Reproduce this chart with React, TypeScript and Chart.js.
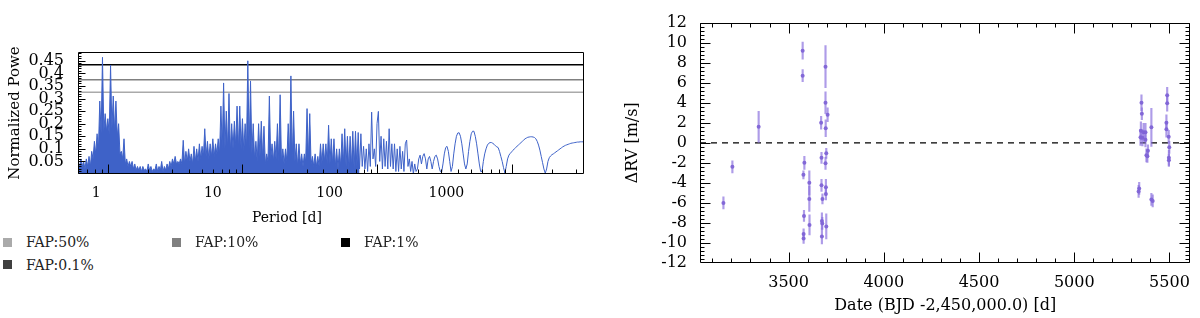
import React, { useEffect, useRef } from 'react';
import { Chart, registerables } from 'chart.js';
Chart.register(...registerables);

const FONT = '"DejaVu Serif", serif';

// ---------------- Left panel: periodogram ----------------
// sampling grid of the periodogram in log10(period)
const LOG_P_START = -0.22;
const LOG_P_STEP = 0.01;
// normalized power, one value per grid step
const POWER = [
  0.04, 0.03, 0.06, 0.03, 0.05, 0.02, 0.06, 0.03, 0.07, 0.03,
  0.09, 0.06, 0.13, 0.08, 0.16, 0.1, 0.29, 0.16, 0.464, 0.17,
  0.24, 0.17, 0.22, 0.16, 0.433, 0.18, 0.31, 0.17, 0.29, 0.15,
  0.2, 0.08, 0.09, 0.06, 0.14, 0.04, 0.06, 0.03, 0.05, 0.03,
  0.05, 0.02, 0.04, 0.015, 0.03, 0.015, 0.03, 0.01, 0.03, 0.015,
  0.02, 0.01, 0.04, 0.015, 0.03, 0.01, 0.02, 0.015, 0.04, 0.01,
  0.03, 0.015, 0.05, 0.01, 0.03, 0.015, 0.04, 0.02, 0.05, 0.03,
  0.06, 0.04, 0.07, 0.04, 0.05, 0.04, 0.06, 0.04, 0.134, 0.04,
  0.09, 0.05, 0.1, 0.05, 0.08, 0.04, 0.11, 0.05, 0.1, 0.05,
  0.12, 0.06, 0.11, 0.07, 0.18, 0.07, 0.13, 0.06, 0.12, 0.07,
  0.14, 0.07, 0.12, 0.08, 0.14, 0.08, 0.27, 0.1, 0.362, 0.1,
  0.25, 0.1, 0.32, 0.09, 0.2, 0.1, 0.21, 0.11, 0.27, 0.1,
  0.27, 0.1, 0.22, 0.09, 0.2, 0.1, 0.45, 0.1, 0.37, 0.08,
  0.2, 0.06, 0.13, 0.05, 0.2, 0.07, 0.21, 0.06, 0.19, 0.04,
  0.08, 0.05, 0.31, 0.06, 0.12, 0.05, 0.13, 0.06, 0.2, 0.05,
  0.315, 0.05, 0.1, 0.04, 0.1, 0.05, 0.2, 0.06, 0.39, 0.06,
  0.25, 0.05, 0.12, 0.03, 0.12, 0.04, 0.08, 0.03, 0.08, 0.05,
  0.26, 0.06, 0.24, 0.04, 0.07, 0.03, 0.08, 0.03, 0.07, 0.03,
  0.12, 0.04, 0.12, 0.05, 0.12, 0.04, 0.194, 0.04, 0.14, 0.04,
  0.14, 0.03, 0.1, 0.02, 0.1, 0.03, 0.16, 0.04, 0.18, 0.03,
  0.15, 0.02, 0.15, 0.03, 0.17, 0.02, 0.17, 0.03, 0.165, 0.02,
  0.16, 0.03, 0.11, 0.02, 0.1, 0.01, 0.12, 0.03, 0.246, 0.06,
  0.1, 0.03, 0.2, 0.249, 0.05, 0.15, 0.02, 0.14, 0.03, 0.13,
  0.02, 0.18, 0.03, 0.12, 0.02, 0.12, 0.01, 0.1, 0.01, 0.11,
  0.02, 0.09, 0.01, 0.12, 0.135, 0.03, 0.06, 0.01, 0.05, 0.0,
  0.04, 0.01, 0.02, 0.06, 0.075, 0.04, 0.07, 0.081, 0.06, 0.02,
  0.06, 0.07, 0.05, 0.02, 0.05, 0.07, 0.075, 0.06, 0.03, 0.01,
  0.007, 0.04, 0.08, 0.105, 0.11, 0.09, 0.05, 0.01, 0.03, 0.08,
  0.12, 0.15, 0.163, 0.164, 0.15, 0.12, 0.08, 0.04, 0.02, 0.04,
  0.09, 0.13, 0.16, 0.17, 0.17, 0.15, 0.12, 0.08, 0.04, 0.01,
  0.01, 0.05, 0.08, 0.1, 0.115, 0.122, 0.125, 0.125, 0.122, 0.118,
  0.112, 0.108, 0.105, 0.09, 0.07, 0.05, 0.025, 0.004, 0.03, 0.06,
  0.075, 0.082, 0.088, 0.094, 0.1, 0.105, 0.11, 0.115, 0.12, 0.125,
  0.13, 0.135, 0.14, 0.143, 0.146, 0.147, 0.148, 0.148, 0.147, 0.145,
  0.14, 0.13, 0.115, 0.095, 0.07, 0.045, 0.02, 0.003, 0.02, 0.05,
  0.065, 0.072, 0.077, 0.08, 0.084, 0.088, 0.092, 0.096, 0.1, 0.104,
  0.108, 0.111, 0.114, 0.116, 0.118, 0.12, 0.122, 0.123, 0.124, 0.125,
  0.126, 0.127, 0.127, 0.128, 0.128, 0.128, 0.128,
];
// the short-period part is so dense that it renders as a filled band
const DENSE_COUNT = 210;
const PERIOD_MIN = 0.6;
const PERIOD_MAX = 3450;
const POWER_MAX = 0.485;
const PERIOD_TICK_LABELS = [1, 10, 100, 1000];
// tick labels of the original are drawn on a slightly squeezed scale
const PERIOD_LABEL_MIN = 0.713;
const PERIOD_LABEL_MAX = 15070;
const POWER_TICKS = [0.05, 0.1, 0.15, 0.2, 0.25, 0.3, 0.35, 0.4, 0.45];

const FAP_LABELS = ['FAP:50%', 'FAP:10%', 'FAP:1%', 'FAP:0.1%'];
const FAP_LEVELS = [0.325, 0.375, 0.434, 0.5];
const FAP_COLORS = ['#aaaaaa', '#808080', '#000000', '#404040'];
const BLUE = 'rgb(62, 98, 200)';

// ---------------- Right panel: RV residuals ----------------
const RV_DATE = [
  3158, 3205, 3343, 3574, 3574, 3583, 3578, 3581, 3579, 3579,
  3609, 3609, 3610, 3671, 3673, 3673, 3678, 3675, 3677, 3675,
  3694, 3694, 3695, 3705, 3698, 3694, 3696, 3696, 3698,
  5341, 5338, 5353, 5355, 5350, 5348, 5364, 5374, 5358, 5374,
  5379, 5387, 5384, 5405, 5405, 5412, 5488, 5488, 5484, 5484,
  5496, 5499, 5497, 5497,
];
const RV_VALUE = [
  -6.0, -2.4, 1.6, 9.2, 6.7, -2.0, -3.2, -7.3, -9.1, -9.55,
  -4.0, -5.6, -8.2, 2.0, -1.5, -4.25, -5.6, -7.8, -8.05, -9.35,
  7.6, 4.0, 1.45, 2.8, -1.05, -2.05, -4.45, -5.1, -8.35,
  -4.55, -4.85, 4.0, 2.9, 1.2, 0.55, 1.05, 1.05, 0.5, 0.3,
  -1.25, -0.8, -1.35, 1.55, -5.65, -5.8, 4.75, 3.95, 2.0, 1.35,
  0.6, -0.45, -1.5, -1.75,
];
const RV_ERR = [
  0.6, 0.6, 1.55, 0.85, 0.6, 0.65, 0.4, 0.55, 0.5, 0.5,
  1.2, 1.25, 1.0, 0.65, 0.55, 0.6, 0.5, 0.8, 0.6, 0.75,
  2.1, 1.1, 0.85, 0.7, 0.5, 0.6, 0.8, 0.6, 1.25,
  0.6, 0.6, 0.8, 0.6, 0.9, 0.8, 0.9, 0.9, 0.8, 0.7,
  0.65, 0.6, 0.6, 1.9, 0.6, 0.6, 0.8, 0.8, 0.8, 0.8,
  0.65, 0.6, 0.75, 0.6,
];
const DATE_MIN = 3035;
const DATE_MAX = 5610;
const DATE_TICKS = [3500, 4000, 4500, 5000, 5500];
const RV_TICKS = [-12, -10, -8, -6, -4, -2, 0, 2, 4, 6, 8, 10, 12];
const ZERO_LINE = [0];
const PT_COLOR = 'rgba(128, 100, 214, 0.95)';
const ERR_COLOR = 'rgba(140, 114, 222, 0.7)';

// ---------------- frame + inward tick marks ----------------
type TickSet = { values: number[]; len: number };
type FrameSpec = {
  xId: string;
  yId: string;
  bottom: TickSet[];
  top: TickSet[];
  left: TickSet[];
  right: TickSet[];
};

function makeFramePlugin(id: string, spec: FrameSpec) {
  return {
    id,
    afterDatasetsDraw(chart: any) {
      const { ctx, chartArea } = chart;
      const L = Math.round(chartArea.left) + 0.5;
      const R = Math.round(chartArea.right) - 0.5;
      const T = Math.round(chartArea.top) + 0.5;
      const B = Math.round(chartArea.bottom) - 0.5;
      const xs = chart.scales[spec.xId];
      const ys = chart.scales[spec.yId];
      ctx.save();
      ctx.strokeStyle = '#000';
      ctx.lineWidth = 1;
      ctx.beginPath();
      ctx.rect(L, T, R - L, B - T);
      const hTicks = (sets: TickSet[], y0: number, dir: number) => {
        for (const s of sets) {
          for (const v of s.values) {
            const p = Math.round(xs.getPixelForValue(v)) + 0.5;
            if (p < L - 0.1 || p > R + 0.1) continue;
            ctx.moveTo(p, y0);
            ctx.lineTo(p, y0 + dir * s.len);
          }
        }
      };
      const vTicks = (sets: TickSet[], x0: number, dir: number) => {
        for (const s of sets) {
          for (const v of s.values) {
            const p = Math.round(ys.getPixelForValue(v)) + 0.5;
            if (p < T - 0.1 || p > B + 0.1) continue;
            ctx.moveTo(x0, p);
            ctx.lineTo(x0 + dir * s.len, p);
          }
        }
      };
      hTicks(spec.bottom, B, -1);
      hTicks(spec.top, T, 1);
      vTicks(spec.left, L, 1);
      vTicks(spec.right, R, -1);
      ctx.stroke();
      ctx.restore();
    },
  };
}

const PERIOD_MINOR: number[] = [];
for (const d of [0.1, 1, 10, 100, 1000]) {
  for (let k = 2; k <= 9; k++) PERIOD_MINOR.push(+(k * d).toPrecision(3));
}
const POWER_MINOR: number[] = [];
for (let k = 1; k <= 48; k++) POWER_MINOR.push(k / 100);
const DATE_MINOR: number[] = [];
for (let v = 3100; v <= 5600; v += 100) if (v % 500 !== 0) DATE_MINOR.push(v);
const RV_MINOR: number[] = [];
for (let k = -30; k <= 30; k++) RV_MINOR.push(k * 0.4);

export default function App() {
  const leftRef = useRef<HTMLCanvasElement>(null);
  const rightRef = useRef<HTMLCanvasElement>(null);

  useEffect(() => {
    Chart.defaults.font.family = FONT;
    Chart.defaults.color = '#000';
    const f = (size: number) => ({ family: FONT, size });

    const periodogram = POWER.map((p, i) => ({
      x: Math.pow(10, LOG_P_START + i * LOG_P_STEP),
      y: p,
    }));
    const fapSets = FAP_LEVELS.map((lv, k) => ({
      type: 'line' as const,
      label: FAP_LABELS[k],
      data: [
        { x: PERIOD_MIN, y: lv },
        { x: PERIOD_MAX, y: lv },
      ],
      borderColor: FAP_COLORS[k],
      borderWidth: 1.5,
      pointRadius: 0,
      fill: false,
    }));

    const left = new Chart(leftRef.current as HTMLCanvasElement, {
      type: 'line',
      data: {
        datasets: [
          {
            label: 'Power (dense part)',
            data: periodogram.slice(0, DENSE_COUNT),
            borderColor: BLUE,
            backgroundColor: BLUE,
            borderWidth: 1,
            pointRadius: 0,
            tension: 0,
            fill: 'origin',
          },
          {
            label: 'Power',
            data: periodogram.slice(DENSE_COUNT - 1),
            borderColor: BLUE,
            borderWidth: 1,
            pointRadius: 0,
            tension: 0,
            fill: false,
          },
          ...fapSets,
        ] as any,
      },
      options: {
        responsive: false,
        animation: false,
        events: [],
        layout: { padding: { top: 52, right: 16, left: 0, bottom: 0 } },
        plugins: { legend: { display: false }, tooltip: { enabled: false } },
        scales: {
          x: { type: 'logarithmic', min: PERIOD_MIN, max: PERIOD_MAX, display: false },
          xl: {
            type: 'logarithmic',
            position: 'bottom',
            min: PERIOD_LABEL_MIN,
            max: PERIOD_LABEL_MAX,
            afterBuildTicks: (s: any) => {
              s.ticks = PERIOD_TICK_LABELS.map((v) => ({ value: v }));
            },
            ticks: {
              callback: (v: any) => String(v),
              font: f(14),
              padding: 11,
              autoSkip: false,
              maxRotation: 0,
              minRotation: 0,
            },
            grid: { display: false, drawTicks: false },
            border: { display: false },
            afterFit: (s: any) => {
              s.height = 56;
            },
          },
          y: {
            type: 'linear',
            min: 0,
            max: POWER_MAX,
            afterBuildTicks: (s: any) => {
              s.ticks = POWER_TICKS.map((v) => ({ value: v }));
            },
            ticks: {
              callback: (v: any) => String(v),
              font: f(16),
              padding: 14,
              autoSkip: false,
            },
            grid: { display: false, drawTicks: false },
            border: { display: false },
            title: {
              display: true,
              text: 'Normalized Powe',
              font: f(15),
              padding: { top: 6, bottom: 0 },
            },
            afterFit: (s: any) => {
              s.width = 78;
            },
          },
        } as any,
      },
      plugins: [
        makeFramePlugin('leftFrame', {
          xId: 'x',
          yId: 'y',
          bottom: [
            { values: PERIOD_TICK_LABELS, len: 9 },
            { values: PERIOD_MINOR, len: 4 },
          ],
          top: [],
          left: [
            { values: POWER_TICKS, len: 7 },
            { values: POWER_MINOR, len: 3 },
          ],
          right: [],
        }),
      ],
    });

    const right = new Chart(rightRef.current as HTMLCanvasElement, {
      type: 'scatter',
      data: {
        datasets: [
          {
            type: 'line',
            data: ZERO_LINE.flatMap((z) => [
              { x: DATE_MIN, y: z },
              { x: DATE_MAX, y: z },
            ]),
            borderColor: '#000',
            borderWidth: 1.3,
            borderDash: [6, 5],
            pointRadius: 0,
            order: 3,
          },
          {
            type: 'bar',
            data: RV_DATE.map((d, i) => ({
              x: d,
              y: [RV_VALUE[i] - RV_ERR[i], RV_VALUE[i] + RV_ERR[i]],
            })),
            backgroundColor: ERR_COLOR,
            barThickness: 1.5,
            borderWidth: 0,
            order: 2,
          },
          {
            type: 'scatter',
            data: RV_DATE.map((d, i) => ({ x: d, y: RV_VALUE[i] })),
            backgroundColor: PT_COLOR,
            borderWidth: 0,
            pointRadius: 2,
            order: 1,
          },
        ] as any,
      },
      options: {
        responsive: false,
        animation: false,
        events: [],
        layout: { padding: { top: 6, right: 4, left: 0, bottom: 0 } },
        plugins: { legend: { display: false }, tooltip: { enabled: false } },
        scales: {
          x: {
            type: 'linear',
            min: DATE_MIN,
            max: DATE_MAX,
            offset: false,
            afterBuildTicks: (s: any) => {
              s.ticks = DATE_TICKS.map((v) => ({ value: v }));
            },
            ticks: {
              callback: (v: any) => String(v),
              font: f(16),
              padding: 10,
              autoSkip: false,
              maxRotation: 0,
              minRotation: 0,
            },
            grid: { display: false, drawTicks: false },
            border: { display: false },
            title: {
              display: true,
              text: 'Date (BJD -2,450,000.0) [d]',
              font: f(16),
              padding: { top: 0, bottom: 3 },
            },
            afterFit: (s: any) => {
              s.height = 55;
            },
          },
          y: {
            type: 'linear',
            min: -12,
            max: 12,
            afterBuildTicks: (s: any) => {
              s.ticks = RV_TICKS.map((v) => ({ value: v }));
            },
            ticks: {
              callback: (v: any) => String(v),
              font: f(16),
              padding: 13,
              autoSkip: false,
            },
            grid: { display: false, drawTicks: false },
            border: { display: false },
            title: {
              display: true,
              text: 'ΔRV [m/s]',
              font: f(16),
              padding: { top: 23, bottom: 0 },
            },
            afterFit: (s: any) => {
              s.width = 100;
            },
          },
        } as any,
      },
      plugins: [
        makeFramePlugin('rightFrame', {
          xId: 'x',
          yId: 'y',
          bottom: [
            { values: DATE_TICKS, len: 10 },
            { values: DATE_MINOR, len: 4 },
          ],
          top: [
            { values: DATE_TICKS, len: 10 },
            { values: DATE_MINOR, len: 4 },
          ],
          left: [
            { values: RV_TICKS, len: 10 },
            { values: RV_MINOR, len: 4 },
          ],
          right: [
            { values: RV_TICKS, len: 10 },
            { values: RV_MINOR, len: 4 },
          ],
        }),
      ],
    });

    return () => {
      left.destroy();
      right.destroy();
    };
  }, []);

  const textStyle: React.CSSProperties = {
    fontFamily: FONT,
    fontSize: 14,
    lineHeight: '18px',
    color: '#222',
    whiteSpace: 'nowrap',
  };

  return (
    <div
      style={{
        position: 'absolute',
        left: 0,
        top: 0,
        width: 1200,
        height: 318,
        background: '#fff',
        overflow: 'hidden',
      }}
    >
      <canvas
        ref={leftRef}
        width={600}
        height={230}
        style={{ position: 'absolute', left: 0, top: 0, width: 600, height: 230 }}
      />
      <div
        style={{
          ...textStyle,
          color: '#000',
          position: 'absolute',
          left: 237,
          top: 208,
          width: 100,
          textAlign: 'center',
        }}
      >
        Period [d]
      </div>
      {FAP_LABELS.map((lab, k) => (
        <div
          key={lab}
          style={{
            ...textStyle,
            position: 'absolute',
            left: 3 + (k % 3) * 169,
            top: 233 + Math.floor(k / 3) * 22.5,
            height: 18,
            display: 'flex',
            alignItems: 'center',
          }}
        >
          <span
            style={{
              display: 'inline-block',
              width: 9,
              height: 9,
              background: FAP_COLORS[k],
              marginRight: 14,
            }}
          />
          {lab}
        </div>
      ))}
      <canvas
        ref={rightRef}
        width={600}
        height={318}
        style={{ position: 'absolute', left: 600, top: 0, width: 600, height: 318 }}
      />
    </div>
  );
}
